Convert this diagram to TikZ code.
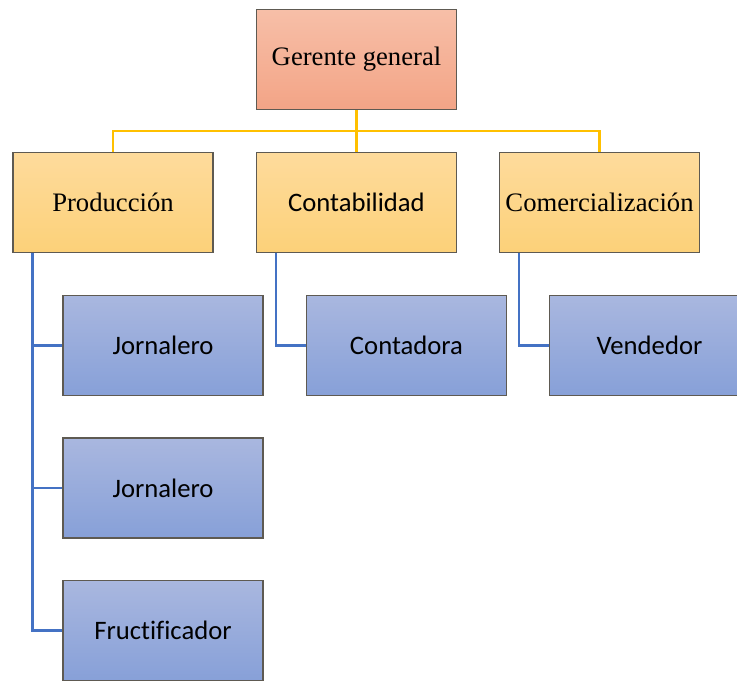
\documentclass[tikz,border=0pt]{standalone}
\usepackage{fontspec}
\setmainfont{Liberation Serif}
\newfontfamily\calibri[Ligatures=CommonOff]{Carlito}
\usetikzlibrary{positioning}
\definecolor{boxline}{HTML}{5E5A52}
\definecolor{headtop}{HTML}{F7BFA8}
\definecolor{headbot}{HTML}{F3A486}
\definecolor{areatop}{HTML}{FEDB9C}
\definecolor{areabot}{HTML}{FCD179}
\definecolor{stafftop}{HTML}{A9B7DF}
\definecolor{staffbot}{HTML}{87A0D8}
\definecolor{goldline}{HTML}{FFC000}
\definecolor{blueline}{HTML}{4472C4}

\begin{document}
\begin{tikzpicture}[
    x=0.75pt,y=-0.75pt,
    box/.style={draw=boxline,line width=0.8pt,minimum width=150pt,minimum height=75pt,inner sep=0pt,align=center,font=\fontsize{20}{24}\selectfont},
    head/.style={box,top color=headtop,bottom color=headbot},
    area/.style={box,top color=areatop,bottom color=areabot},
    staff/.style={box,top color=stafftop,bottom color=staffbot,font=\calibri\fontsize{20}{24}\selectfont},
    goldlink/.style={goldline,line width=2.2pt},
    bluelink/.style={blueline,line width=2.2pt}
]
\useasboundingbox (0,0) rectangle (737,681);

\node[head] (gerente) at (356.5,59.5) {Gerente general};
\node[area] (produccion) at (113,202.5) {Producción};
\node[area,font=\calibri\fontsize{20}{24}\selectfont] (contabilidad) at (356.5,202.5) {Contabilidad};
\node[area] (comercial) at (599.5,202.5) {Comercialización};

\node[staff] (jornalA) at (163,345.5) {Jornalero};
\node[staff] (jornalB) at (163,488) {Jornalero};
\node[staff] (fructif) at (163,630.5) {Fructificador};
\node[staff] (contadora) at (406.5,345.5) {Contadora};
\node[staff] (vendedor) at (649.5,345.5) {Vendedor};

% links from the top
\draw[goldlink] (gerente) -- (contabilidad);
\draw[goldlink] (produccion.north) -- ++(0,-21) -| (comercial.north);

% links to the staff
\draw[bluelink] ([xshift=15pt]produccion.south west) |- (fructif.west);
\draw[bluelink] ([xshift=15pt]produccion.south west) |- (jornalA.west);
\draw[bluelink] ([xshift=15pt]produccion.south west) |- (jornalB.west);
\draw[bluelink] ([xshift=15pt]contabilidad.south west) |- (contadora.west);
\draw[bluelink] ([xshift=15pt]comercial.south west) |- (vendedor.west);
\end{tikzpicture}
\end{document}
